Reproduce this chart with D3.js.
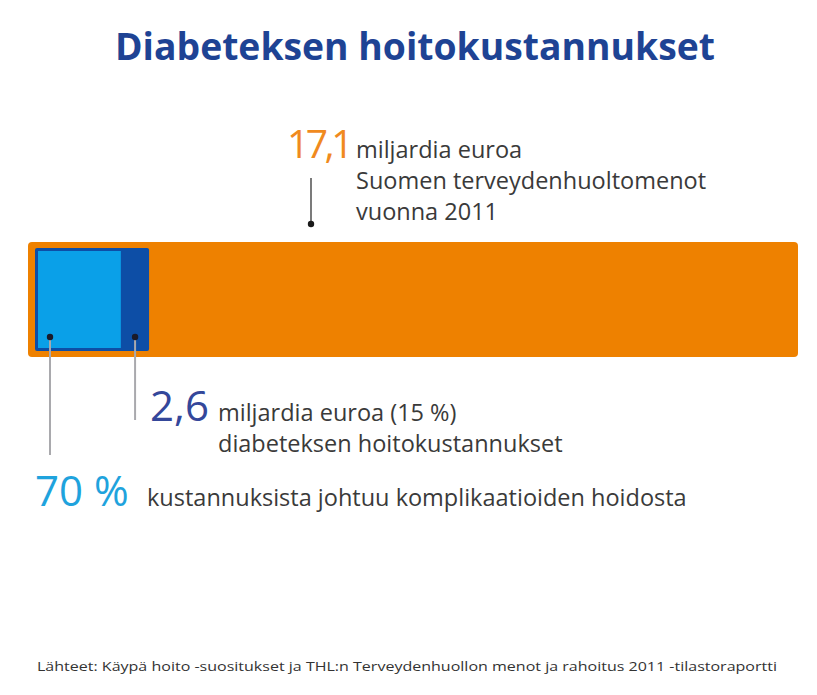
<!DOCTYPE html>
<html><head><meta charset="utf-8">
<script src="https://cdn.jsdelivr.net/npm/d3@7"></script>
<style>body{margin:0;background:#fff}svg{display:block}</style>
</head><body>
<script>
const totalValue = 17.1;
const diabetesValue = 2.6;
const complicationShare = 0.70;
const labels = {
  title: "Diabeteksen hoitokustannukset",
  total: "17,1",
  totalLines: ["miljardia euroa", "Suomen terveydenhuoltomenot", "vuonna 2011"],
  diab: "2,6",
  diabLines: ["miljardia euroa (15 %)", "diabeteksen hoitokustannukset"],
  comp: "70 %",
  compLine: "kustannuksista johtuu komplikaatioiden hoidosta",
  source: "Lähteet: Käypä hoito -suositukset ja THL:n Terveydenhuollon menot ja rahoitus 2011 -tilastoraportti"
};

const W = 817, H = 695;
const svg = d3.select("body").append("svg").attr("width", W).attr("height", H);
const font = "'Open Sans', sans-serif";

const x = d3.scaleLinear().domain([0, totalValue]).range([28, 798]);
const barY = 242, barH = 115;

// title
svg.append("text").attr("x", 415).attr("y", 60).attr("text-anchor", "middle")
  .attr("font-family", font).attr("font-weight", 700).attr("font-size", 38)
  .attr("fill", "#1e4394").attr("textLength", 600).attr("lengthAdjust", "spacingAndGlyphs")
  .text(labels.title);

// total bar
svg.append("rect").attr("x", x(0)).attr("y", barY).attr("width", x(totalValue) - x(0)).attr("height", barH)
  .attr("rx", 4).attr("fill", "#ee8100");

// diabetes box
const inset = 7;
const dx0 = x(0) + inset, dW = x(diabetesValue) - x(0) - 3;
svg.append("rect").attr("x", dx0).attr("y", barY + 6).attr("width", dW).attr("height", barH - 12)
  .attr("rx", 2).attr("fill", "#0d4ea6");
svg.append("rect").attr("x", dx0 + 3).attr("y", barY + 9).attr("width", dW * complicationShare + 3).attr("height", barH - 18)
  .attr("fill", "#0aa0e8");

// annotation lines
function leader(x1, y1, y2, col) {
  svg.append("line").attr("x1", x1).attr("x2", x1).attr("y1", y1).attr("y2", y2)
    .attr("stroke", col).attr("stroke-width", 2);
  svg.append("circle").attr("cx", x1).attr("cy", y1).attr("r", 3.2).attr("fill", "#1a1a2a");
}
svg.append("line").attr("x1", 311).attr("x2", 311).attr("y1", 178).attr("y2", 224).attr("stroke", "#333").attr("stroke-width", 1.3);
svg.append("circle").attr("cx", 311).attr("cy", 224).attr("r", 3.2).attr("fill", "#1a1a1a");
leader(dx0 + 3 + 12, 337, 455, "#a9a9ad");
leader(dx0 + dW - 14, 337, 420, "#a9a9ad");

// texts
const txtCol = "#3a3a3a";
const fs = 23.5;
svg.append("text").attr("x", 287).attr("y", 158).attr("font-family", font).attr("font-size", 39)
  .attr("fill", "#f08a1e").attr("letter-spacing", -3.5).text(labels.total);
labels.totalLines.forEach((t, i) => {
  svg.append("text").attr("x", 356).attr("y", 158 + i * 31).attr("font-family", font).attr("font-size", fs)
    .attr("fill", txtCol).text(t);
});
svg.append("text").attr("x", 150).attr("y", 421).attr("font-family", font).attr("font-size", 42)
  .attr("fill", "#34479a").text(labels.diab);
labels.diabLines.forEach((t, i) => {
  svg.append("text").attr("x", 218).attr("y", 421 + i * 31).attr("font-family", font).attr("font-size", fs)
    .attr("fill", txtCol).text(t);
});
svg.append("text").attr("x", 35).attr("y", 506).attr("font-family", font).attr("font-size", 42)
  .attr("fill", "#1fa3dd").text(labels.comp);
svg.append("text").attr("x", 147).attr("y", 506).attr("font-family", font).attr("font-size", fs)
  .attr("fill", txtCol).text(labels.compLine);

svg.append("text").attr("x", 37).attr("y", 671).attr("font-family", font).attr("font-size", 13)
  .attr("fill", "#333").attr("textLength", 740).attr("lengthAdjust", "spacingAndGlyphs").text(labels.source);
</script>
</body></html>
